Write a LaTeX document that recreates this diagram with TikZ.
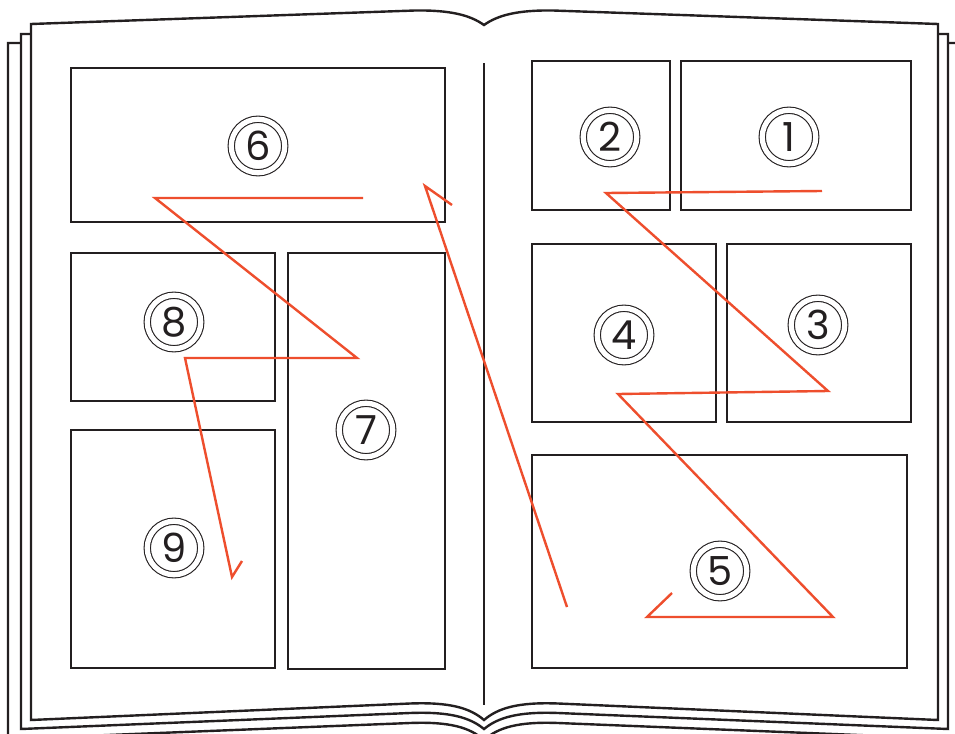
\documentclass[tikz,border=0pt]{standalone}
\usepackage{fontspec}
\usepackage{xcolor}
\usepackage{tikz}
\newfontfamily\numfont{Poppins}
\definecolor{readred}{RGB}{238,78,45}
\definecolor{ink}{RGB}{35,31,32}

\begin{document}
\begin{tikzpicture}[x=0.5pt, y=-0.5pt, line join=miter,
  sheet/.style={draw=ink, line width=1.2pt, fill=white},
  panel/.style={draw=ink, line width=1.45pt},
  route/.style={readred, line width=1.2pt},
  num/.style={circle, draw=ink, double, double distance=2.6pt, line width=0.55pt,
    minimum size=26.75pt, inner sep=0pt, text=ink,
    font=\numfont\fontsize{20}{20}\selectfont}]
\useasboundingbox (0,0) rectangle (955,734);
% back sheets
\draw[sheet] (8,760) -- (8,43) -- (958,43) -- (958,760)
  -- (958,739) -- (558,723) .. controls (518,721.5) and (498,727.5) .. (484,740)
  .. controls (470,727.5) and (450,721.5) .. (410,723) -- (8,739);
\draw[sheet] (21,34) -- (948,34) -- (948,729)
  -- (558,713) .. controls (518,711.5) and (498,717.5) .. (484,729)
  .. controls (470,717.5) and (450,711.5) .. (410,713) -- (21,729) -- cycle;
% front sheet
\draw[sheet] (31,24) -- (415,10.5) .. controls (450,10) and (470,15) .. (484,25)
  .. controls (498,15) and (518,10) .. (553,10.5) -- (938,24) -- (938,720)
  -- (558,703.5) .. controls (518,702) and (498,708) .. (484,720)
  .. controls (470,708) and (450,702) .. (410,703.5) -- (31,720) -- cycle;
\coordinate (spinetop) at (484,63);
\coordinate (spinebot) at (484,705);
\draw[ink, line width=1.1pt] (spinetop) -- (spinebot);
% panels
\foreach \xa/\ya/\xb/\yb in {71/68/445/222, 71/253/275/401, 288/253/445/669,
  71/430/275/668, 532/61/670/210, 681/61/911/210, 532/244/716/422,
  727/244/911/422, 532/455/907/668}
  \draw[panel] (\xa,\ya) rectangle (\xb,\yb);
% reading order
\coordinate (a1) at (822,191);
\coordinate (a2) at (606,193);
\coordinate (a3) at (828,391);
\coordinate (a4) at (618,394);
\coordinate (a5) at (833,617);
\coordinate (a6) at (647,617);
\coordinate (a7) at (672,593);
\draw[route] (a1) -- (a2) -- (a3) -- (a4) -- (a5) -- (a6) -- (a7);
\coordinate (b1) at (567,607);
\coordinate (b2) at (425,186);
\coordinate (b3) at (452,205);
\draw[route] (b1) -- (b2) -- (b3);
\coordinate (c1) at (363,198);
\coordinate (c2) at (155,198);
\coordinate (c3) at (357,358);
\coordinate (c4) at (185,358);
\coordinate (c5) at (232,577);
\coordinate (c6) at (242,561);
\draw[route] (c1) -- (c2) -- (c3) -- (c4) -- (c5) -- (c6);
% numbers
\node[num] (n1) at (789,137) {1};
\node[num] (n2) at (610,137) {2};
\node[num] (n3) at (818,325) {3};
\node[num] (n4) at (624,335) {4};
\node[num] (n5) at (720,571) {5};
\node[num] (n6) at (258,146) {6};
\node[num] (n7) at (366,430) {7};
\node[num] (n8) at (174,322) {8};
\node[num] (n9) at (174,548) {9};
\end{tikzpicture}
\end{document}
